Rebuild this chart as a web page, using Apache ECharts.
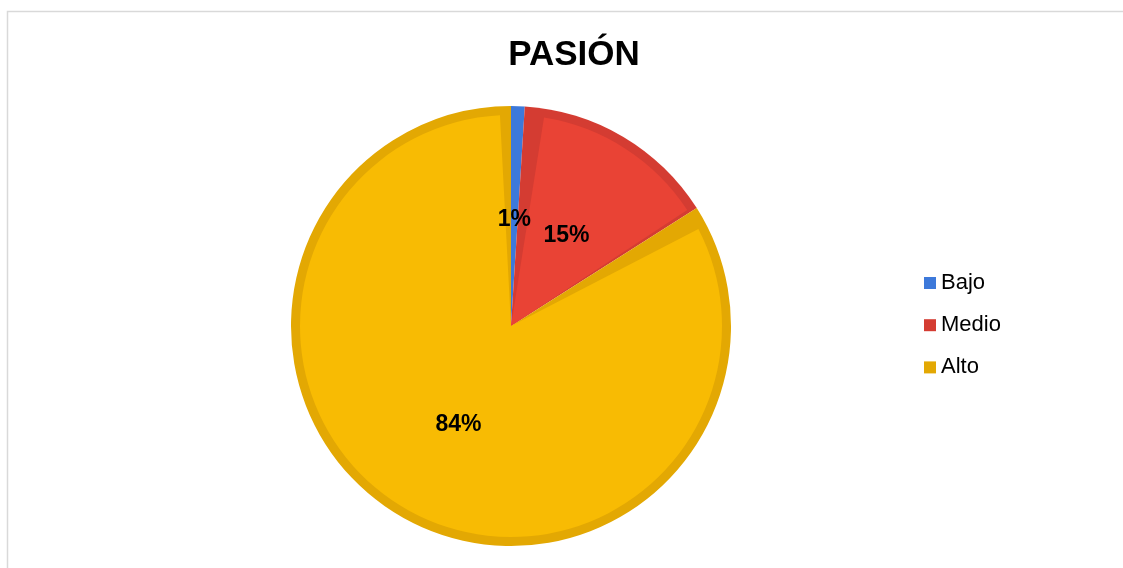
<!DOCTYPE html>
<html>
<head>
<meta charset="utf-8">
<script src="https://cdn.jsdelivr.net/npm/echarts@6/dist/echarts.min.js"></script>
<style>
html,body{margin:0;padding:0;background:#fff;}
#c{width:1123px;height:568px;}
</style>
</head>
<body>
<div id="c"></div>
<script>
const titleText = 'PASIÓN';
const categories = ['Bajo', 'Medio', 'Alto'];
const values = [1, 15, 84];
const fillColors = ['#3D79DA', '#E94335', '#F8BB03'];
const edgeColors = ['#3D79DA', '#D43C32', '#E3A803'];

const chart = echarts.init(document.getElementById('c'));
const R = 220;
const bw = 9;

const outerData = categories.map((n, i) => ({
  name: n, value: values[i],
  itemStyle: { color: edgeColors[i] }
}));
const innerData = categories.map((n, i) => ({
  name: n, value: values[i],
  itemStyle: { color: fillColors[i] }
}));

chart.setOption({
  animation: false,
  graphic: [{
    type: 'rect', z: -10, silent: true,
    shape: { x: 7.5, y: 11.5, width: 1300, height: 700 },
    style: { fill: '#fff', stroke: '#D9D9D9', lineWidth: 1.5 }
  }],
  title: {
    text: titleText, left: 569, top: 33, textAlign: 'center',
    textStyle: { fontFamily: 'Liberation Sans, Arial', fontSize: 35, fontWeight: 'bold', color: '#000' }
  },
  legend: {
    orient: 'vertical', left: 919, top: 267,
    itemWidth: 12, itemHeight: 12, itemGap: 20.2,
    icon: 'rect',
    data: categories.map((n, i) => ({ name: n, itemStyle: { color: edgeColors[i], borderWidth: 0 } })),
    textStyle: { fontFamily: 'Liberation Sans, Arial', fontSize: 22, color: '#000', lineHeight: 22, padding: [0, 0, 0, 0] }
  },
  series: [
    {
      type: 'pie', name: 'edge', center: [511, 326], radius: [0, R],
      startAngle: 90, clockwise: true, avoidLabelOverlap: false,
      data: outerData, z: 1,
      itemStyle: { borderWidth: 0 },
      label: { show: false },
      labelLine: { show: false },
      emphasis: { disabled: true }
    },
    {
      type: 'pie', name: 'fill', center: [511, 326], radius: [0, R - bw],
      startAngle: 90, clockwise: true, padAngle: 6, avoidLabelOverlap: false,
      data: innerData, z: 2,
      itemStyle: { borderWidth: 0 },
      label: { show: false },
      labelLine: { show: false },
      emphasis: { disabled: true },
      legendHoverLink: false
    },
    {
      type: 'pie', name: 'labels', center: [511, 326], radius: [0, 212],
      startAngle: 90, clockwise: true, avoidLabelOverlap: false,
      data: categories.map((n, i) => ({ name: n, value: values[i] })),
      z: 3,
      itemStyle: { color: 'rgba(0,0,0,0)', borderWidth: 0 },
      label: {
        show: true, position: 'inside', offset: [0, 3],
        formatter: p => p.value + '%',
        fontFamily: 'Liberation Sans, Arial', fontSize: 23, fontWeight: 'bold', color: '#000'
      },
      labelLine: { show: false },
      emphasis: { disabled: true },
      legendHoverLink: false
    }
  ]
});
</script>
</body>
</html>
